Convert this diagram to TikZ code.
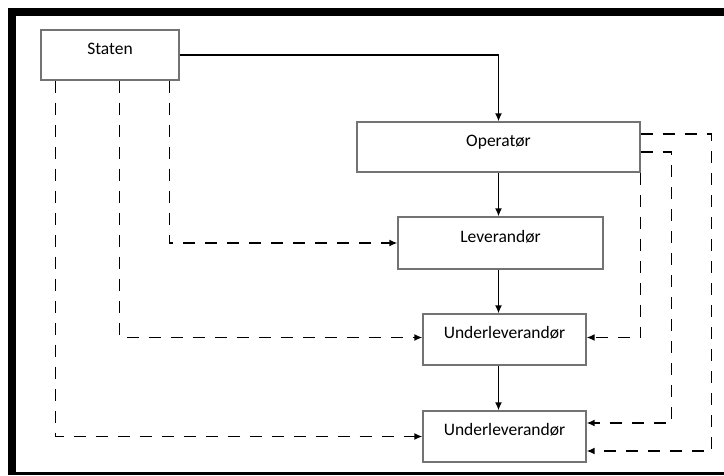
\documentclass[tikz,border=0pt]{standalone}
\usepackage{fontspec}
\setmainfont{Carlito}
\usetikzlibrary{arrows.meta}

\begin{document}
\begin{tikzpicture}[x=1pt, y=-1pt,
    >={Latex[length=8pt,width=7pt]},
    box/.style={draw=black!55, line width=1.3pt, minimum height=50pt, inner sep=0pt,
      text height=12pt, text depth=14pt, font=\fontsize{17.5}{21}\selectfont},
    link/.style={->, line width=1.5pt},
    dep/.style={->, line width=1.5pt, dash pattern=on 12pt off 10pt}]
  \useasboundingbox (0,0) rectangle (724,475);
  % outer frame (right side lies outside the picture)
  \fill (8,8) rectangle (724,16);
  \fill (8,8) rectangle (16,475);
  \fill (8,472) rectangle (724,475);

  \node[box, minimum width=138pt] (staten) at (110,55) {Staten};
  \node[box, minimum width=283pt] (op) at (498.5,147) {Operatør};
  \node[box, minimum width=205pt, minimum height=52pt] (lev) at (500.5,243) {Leverandør};
  \node[box, minimum width=163pt, minimum height=51pt] (u1) at (504.5,339.5) {Underleverandør};
  \node[box, minimum width=163pt, minimum height=51pt] (u2) at (504.5,436.5) {Underleverandør};

  % solid chain
  \draw[link] (staten.east) -| (op.north);
  \draw[link] (op.south) -- (op.south |- lev.north);
  \draw[link] (lev.south -| op.south) -- (op.south |- u1.north);
  \draw[link] (u1.south -| op.south) -- (op.south |- u2.north);

  % dashed lines from Staten
  \draw[dep] ([xshift=129pt]staten.south west) |- (lev.west);
  \draw[dep] ([xshift=79pt]staten.south west) |- ([yshift=2pt]u1.west);
  \draw[dep] ([xshift=15pt]staten.south west) |- (u2.west);

  % dashed lines from Operatør
  \draw[dep] (op.south east) |- ([yshift=2pt]u1.east);
  \draw[dep] ([yshift=-5pt]op.east) -- ++(31,0) |- ([yshift=13.5pt]u2.east);
  \draw[dep] ([yshift=13pt]op.east) -- ++(71,0) |- ([yshift=-14.5pt]u2.east);
\end{tikzpicture}
\end{document}
